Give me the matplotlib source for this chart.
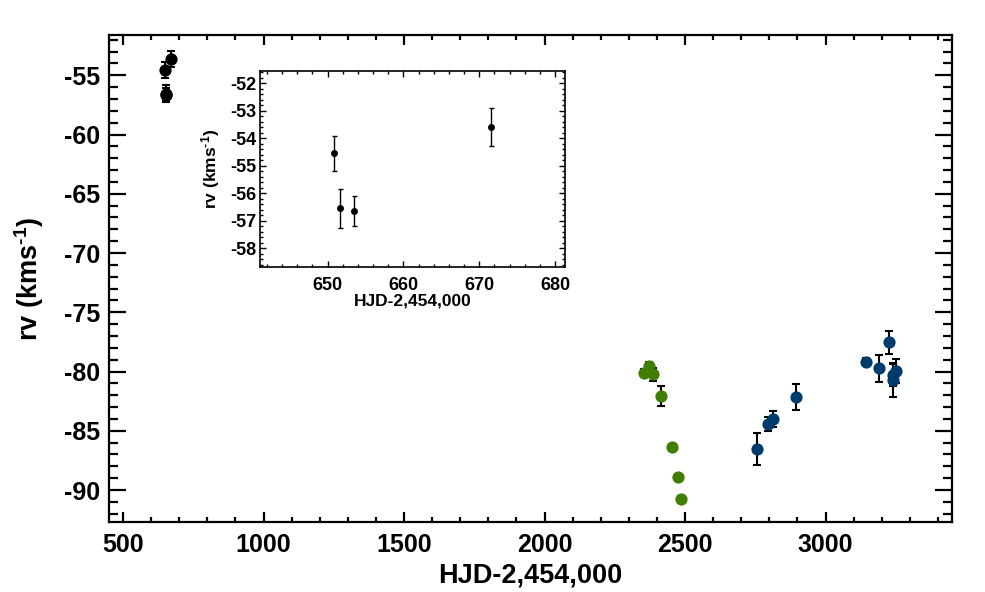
import matplotlib
matplotlib.use("Agg")
import matplotlib.pyplot as plt
from matplotlib.ticker import MultipleLocator

plt.rcParams['font.family'] = ['Liberation Sans', 'DejaVu Sans']
plt.rcParams['font.weight'] = 'bold'
plt.rcParams['axes.unicode_minus'] = False
plt.rcParams['mathtext.fontset'] = 'custom'
plt.rcParams['mathtext.rm'] = 'Liberation Sans:bold'
plt.rcParams['mathtext.bf'] = 'Liberation Sans:bold'
plt.rcParams['mathtext.default'] = 'bf'

# Data
black_x = [650.8, 651.7, 653.5, 671.6]
black_y = [-54.55, -56.55, -56.65, -53.6]
black_err = [0.65, 0.71, 0.55, 0.69]

green_x = [2353, 2371, 2386, 2416, 2455, 2474, 2487]
green_y = [-80.1, -79.5, -80.24, -82.07, -86.37, -88.9, -90.72]
green_err = [0.3, 0.3, 0.58, 0.84, 0.2, 0.2, 0.2]

blue_x = [2756, 2796, 2813, 2894, 3143, 3190, 3226, 3240, 3250, 3240]
blue_y = [-86.51, -84.40, -84.03, -82.12, -79.17, -79.73, -77.54, -80.72, -79.96, -80.3]
blue_err = [1.35, 0.6, 0.66, 1.1, 0.3, 1.15, 0.95, 1.45, 1.05, 0.9]

green_c = '#407d00'
blue_c = '#003c6b'

xlabel = 'HJD-2,454,000'
ylabel = r'rv (kms$^{\text{-1}}$)'

fig = plt.figure(figsize=(9.85, 5.92), dpi=100)
ax = fig.add_axes([0.1107, 0.1182, 0.8558, 0.8227])

for xs, ys, es, c in [(black_x, black_y, black_err, 'black'),
                      (green_x, green_y, green_err, green_c),
                      (blue_x, blue_y, blue_err, blue_c)]:
    ax.errorbar(xs, ys, yerr=es, fmt='none', ecolor='black', elinewidth=1.5,
                capsize=3, capthick=1.5, zorder=2)
    ax.plot(xs, ys, 'o', color=c, markersize=8.8, markeredgewidth=0, zorder=3)

ax.set_xlim(450, 3450)
ax.set_ylim(-92.7, -51.6)
ax.xaxis.set_major_locator(MultipleLocator(500))
ax.xaxis.set_minor_locator(MultipleLocator(100))
ax.yaxis.set_major_locator(MultipleLocator(5))
ax.yaxis.set_minor_locator(MultipleLocator(1))
for s in ax.spines.values():
    s.set_linewidth(1.6)
ax.tick_params(axis='both', which='both', direction='in', top=True, right=True,
               width=1.6, labelsize=18)
ax.tick_params(axis='x', which='major', length=7, pad=8)
ax.tick_params(axis='x', which='minor', length=3.6)
ax.tick_params(axis='y', which='major', length=12.5, pad=6.5)
ax.tick_params(axis='y', which='minor', length=6.5)
for lab in ax.get_xticklabels() + ax.get_yticklabels():
    lab.set_fontweight('bold')
ax.set_xlabel(xlabel, fontsize=19.5, fontweight='bold')
ax.set_ylabel(ylabel, fontsize=19.5, fontweight='bold')
ax.xaxis.set_label_coords(0.5, -0.083)
ax.yaxis.set_label_coords(-0.075, 0.5)

# Inset
ins = fig.add_axes([0.264, 0.5485, 0.3096, 0.3321])
ins.errorbar(black_x, black_y, yerr=black_err, fmt='none', ecolor='black',
             elinewidth=1.0, capsize=1.8, capthick=1.0, zorder=2)
ins.plot(black_x, black_y, 'o', color='black', markersize=5, markeredgewidth=0, zorder=3)
ins.set_xlim(641.1, 681.3)
ins.set_ylim(-58.69, -51.54)
ins.xaxis.set_major_locator(MultipleLocator(10))
ins.xaxis.set_minor_locator(MultipleLocator(2))
ins.yaxis.set_major_locator(MultipleLocator(1))
ins.yaxis.set_minor_locator(MultipleLocator(0.2))
for s in ins.spines.values():
    s.set_linewidth(1.2)
ins.tick_params(axis='both', which='both', direction='in', top=True, right=True,
                width=1.0, labelsize=13)
ins.tick_params(axis='both', which='major', length=4.5)
ins.tick_params(axis='both', which='minor', length=2.2)
ins.tick_params(axis='x', which='major', pad=7)
ins.tick_params(axis='y', which='major', pad=2.5)
for lab in ins.get_xticklabels() + ins.get_yticklabels():
    lab.set_fontweight('bold')
ins.set_xlabel(xlabel, fontsize=12.5, fontweight='bold')
ins.set_ylabel(ylabel, fontsize=12.5, fontweight='bold')
ins.xaxis.set_label_coords(0.5, -0.135)
ins.yaxis.set_label_coords(-0.125, 0.5)

fig.savefig('out.png', dpi=100)
